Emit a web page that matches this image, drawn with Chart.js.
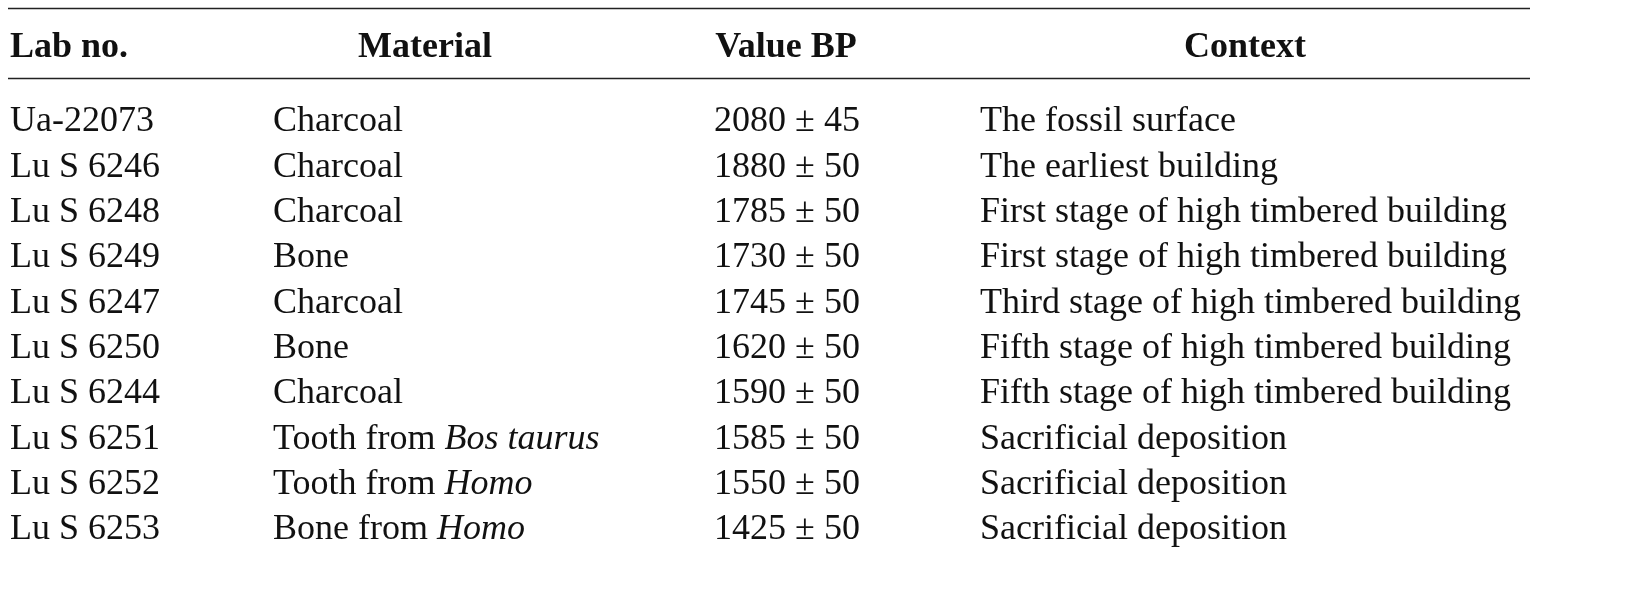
<!DOCTYPE html>
<html>
<head>
<meta charset="utf-8">
<script src="https://cdn.jsdelivr.net/npm/chart.js@4"></script>
<style>
  html, body { margin: 0; padding: 0; background: #fff; }
  #wrap { width: 1642px; height: 592px; }
</style>
</head>
<body>
<div id="wrap"><canvas id="tbl"></canvas></div>
<script>
// table data
const headers = ['Lab no.', 'Material', 'Value BP', 'Context'];
const labNos = ['Ua-22073', 'Lu S 6246', 'Lu S 6248', 'Lu S 6249', 'Lu S 6247', 'Lu S 6250', 'Lu S 6244', 'Lu S 6251', 'Lu S 6252', 'Lu S 6253'];
// *...* marks italic text
const materials = ['Charcoal', 'Charcoal', 'Charcoal', 'Bone', 'Charcoal', 'Bone', 'Charcoal', 'Tooth from *Bos taurus*', 'Tooth from *Homo*', 'Bone from *Homo*'];
const valuesBP = [2080, 1880, 1785, 1730, 1745, 1620, 1590, 1585, 1550, 1425];
const errorsBP = [45, 50, 50, 50, 50, 50, 50, 50, 50, 50];
const contexts = ['The fossil surface', 'The earliest building', 'First stage of high timbered building', 'First stage of high timbered building', 'Third stage of high timbered building', 'Fifth stage of high timbered building', 'Fifth stage of high timbered building', 'Sacrificial deposition', 'Sacrificial deposition', 'Sacrificial deposition'];

const FONT = '"Liberation Serif", "DejaVu Serif", serif';
const SIZE = 36;
// column anchors in x-scale units (pixels); align: left / center
const cols = [
    { x: 10, align: 'left', hx: 10, halign: 'left' },
    { x: 273, align: 'left', hx: 425, halign: 'center' },
    { x: 787, align: 'center', hx: 786, halign: 'center' },
    { x: 980, align: 'left', hx: 1245, halign: 'center' }
];
const HEADER_ROW = -1.63, TOP_RULE = -2.51, MID_RULE = -0.97;

function drawRich(ctx, text, x, y, align) {
    const parts = text.split('*');
    let total = 0;
    parts.forEach((p, i) => {
        ctx.font = (i % 2 ? 'italic ' : '') + SIZE + 'px ' + FONT;
        total += ctx.measureText(p).width;
    });
    let cx = align === 'center' ? x - total / 2 : x;
    ctx.textAlign = 'left';
    parts.forEach((p, i) => {
        ctx.font = (i % 2 ? 'italic ' : '') + SIZE + 'px ' + FONT;
        ctx.fillText(p, cx, y);
        cx += ctx.measureText(p).width;
    });
}

const tablePlugin = {
    id: 'tablePlugin',
    afterDraw(chart) {
        const ctx = chart.ctx;
        const xs = chart.scales.x, ys = chart.scales.y;
        ctx.save();
        ctx.fillStyle = '#111';
        ctx.textBaseline = 'middle';

        // rules
        ctx.strokeStyle = '#222';
        ctx.lineWidth = 1.3;
        [TOP_RULE, MID_RULE].forEach(r => {
            const y = Math.round(ys.getPixelForValue(r)) + 0.5;
            ctx.beginPath();
            ctx.moveTo(xs.getPixelForValue(8), y);
            ctx.lineTo(xs.getPixelForValue(1530), y);
            ctx.stroke();
        });

        // headers
        ctx.font = 'bold ' + SIZE + 'px ' + FONT;
        headers.forEach((h, i) => {
            ctx.textAlign = cols[i].halign;
            ctx.fillText(h, xs.getPixelForValue(cols[i].hx), ys.getPixelForValue(HEADER_ROW));
        });

        // body rows
        labNos.forEach((lab, r) => {
            const y = ys.getPixelForValue(r);
            const cells = [lab, materials[r], valuesBP[r] + ' \u00b1 ' + errorsBP[r], contexts[r]];
            cells.forEach((c, i) => drawRich(ctx, c, xs.getPixelForValue(cols[i].x), y, cols[i].align));
        });
        ctx.restore();
    }
};

new Chart(document.getElementById('tbl'), {
    type: 'scatter',
    data: {
        datasets: [{
            data: labNos.map((_, i) => ({ x: cols[0].x, y: i })),
            pointRadius: 0
        }]
    },
    options: {
        responsive: true,
        maintainAspectRatio: false,
        animation: false,
        layout: { padding: 0 },
        plugins: { legend: { display: false }, tooltip: { enabled: false } },
        scales: {
            x: { type: 'linear', min: 0, max: 1642, display: false },
            y: { type: 'linear', min: -2.69, max: 10.37, reverse: true, display: false }
        }
    },
    plugins: [tablePlugin]
});
</script>
</body>
</html>
